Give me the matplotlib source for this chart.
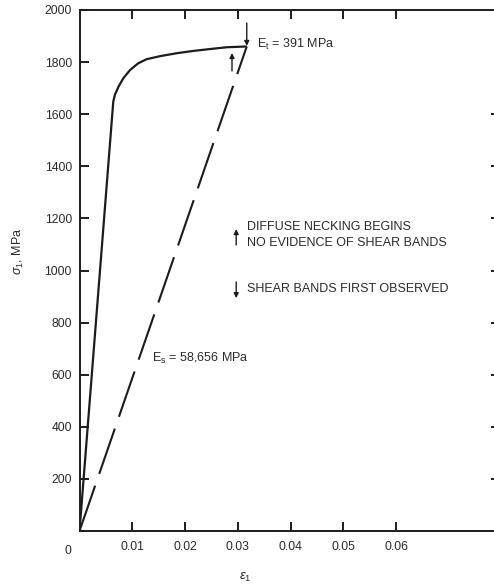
import matplotlib
matplotlib.use("Agg")
import matplotlib.pyplot as plt

# stress-strain curve
strain = [0.0, 0.0064, 0.0067, 0.0074, 0.0083, 0.0096, 0.0111, 0.0127,
          0.0153, 0.0184, 0.0216, 0.0247, 0.0279, 0.0317]
stress = [0, 1648, 1674, 1706, 1738, 1770, 1795, 1811,
          1823, 1834, 1843, 1850, 1857, 1860]

# secant modulus line: origin to the end point
secant_strain = [0.0, 0.0317]
secant_stress = [0, 1860]

x_ticks = [0.01, 0.02, 0.03, 0.04, 0.05, 0.06]
x_ticklabels = ["0.01", "0.02", "0.03", "0.04", "0.05", "0.06"]
y_ticks = [200, 400, 600, 800, 1000, 1200, 1400, 1600, 1800, 2000]
y_ticks_right = [200, 400, 600, 800, 1000, 1200, 1400, 1600]

# arrow markers on the curve: (strain, tail stress, head stress)
shear_arrow = (0.0317, 1950, 1862)
necking_arrow = (0.0289, 1766, 1835)

plt.rcParams["font.family"] = ["Liberation Sans", "DejaVu Sans"]
plt.rcParams["mathtext.fontset"] = "custom"
plt.rcParams["mathtext.rm"] = "Liberation Sans"
plt.rcParams["mathtext.it"] = "Liberation Sans:italic"

ink = "#1c1c1c"
txt = "#2b2b2b"

fig = plt.figure(figsize=(4.94, 5.87), dpi=100)
# right spine sits just past the picture edge, only its ticks show
ax = fig.add_axes([79.5 / 494, 56 / 587, 420 / 494, 521 / 587])

ax.plot(strain, stress, color=ink, lw=1.6, solid_capstyle="butt")
ax.plot(secant_strain, secant_stress, color=ink, lw=1.5,
        dashes=(23, 6.0), dash_capstyle="butt")

ax.set_xlim(0, 0.0796)
ax.set_ylim(0, 2000)

ax.set_xticks(x_ticks)
ax.set_xticklabels(x_ticklabels)
ax.set_yticks(y_ticks)
ax.tick_params(axis="both", direction="in", length=6.5, width=1.4,
               colors=ink, labelcolor=txt, labelsize=8.7)
ax.tick_params(axis="x", top=True, pad=7)
ax.tick_params(axis="y", pad=5.5)

sec = ax.secondary_yaxis("right")
sec.set_yticks(y_ticks_right)
sec.tick_params(direction="in", length=6.5, width=1.4, colors=ink,
                labelright=False)
sec.spines["right"].set_linewidth(1.4)

for s in ax.spines.values():
    s.set_linewidth(1.4)
    s.set_color(ink)

# corner zero label
ax.annotate("0", xy=(0, 0), xytext=(-8, -10), textcoords="offset points",
            ha="center", va="top", fontsize=8.7, color=txt)

fig.text(245 / 494, 1 - 577 / 587, r"$\epsilon_1$", ha="center",
         va="center", fontsize=9.5, color=txt)
fig.text(18 / 494, 1 - 251 / 587, r"$\sigma_1$, MPa", ha="center",
         va="center", rotation=90, fontsize=9, color=txt)

arrow_kw = dict(arrowstyle="-|>", lw=1.0, color=ink, mutation_scale=7,
                shrinkA=0, shrinkB=0)
ax.annotate("", xy=(shear_arrow[0], shear_arrow[2]),
            xytext=(shear_arrow[0], shear_arrow[1]), arrowprops=arrow_kw)
ax.annotate("", xy=(necking_arrow[0], necking_arrow[2]),
            xytext=(necking_arrow[0], necking_arrow[1]), arrowprops=arrow_kw)

ax.text(0.0336, 1866, r"E$_\mathrm{t}$ = 391 MPa", ha="left", va="center",
        fontsize=9, color=txt)
ax.text(0.0137, 664, r"E$_\mathrm{s}$ = 58,656 MPa", ha="left", va="center",
        fontsize=9, color=txt)

# key
ax.annotate("", xy=(0.0297, 1159), xytext=(0.0297, 1098), arrowprops=arrow_kw)
ax.text(0.0318, 1167, "DIFFUSE NECKING BEGINS", ha="left", va="center",
        fontsize=9, color=txt)
ax.text(0.0318, 1106, "NO EVIDENCE OF SHEAR BANDS", ha="left", va="center",
        fontsize=9, color=txt)
ax.annotate("", xy=(0.0297, 894), xytext=(0.0297, 956), arrowprops=arrow_kw)
ax.text(0.0318, 929, "SHEAR BANDS FIRST OBSERVED", ha="left", va="center",
        fontsize=9, color=txt)

fig.savefig("out.png", dpi=100)
